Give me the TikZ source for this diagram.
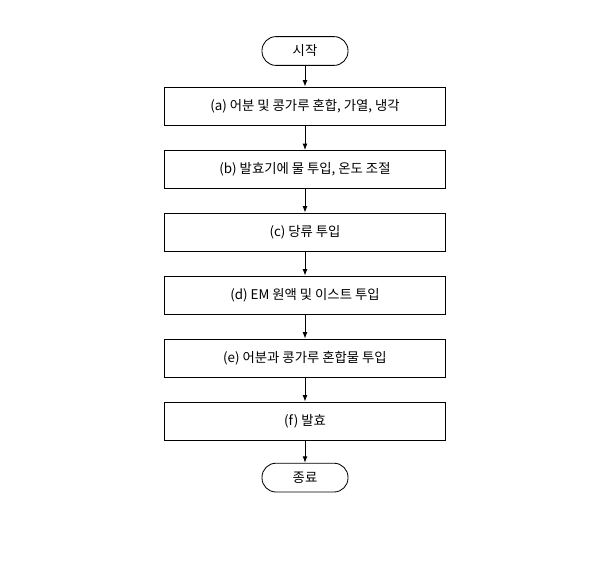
\documentclass[tikz,border=0pt]{standalone}
\usepackage{fontspec}
\setmainfont{Noto Sans CJK KR}
\usetikzlibrary{positioning,arrows.meta}
\tikzset{
  stepbox/.style={draw, semithick, minimum width=7.025cm, minimum height=0.95cm, font=\fontsize{9.5}{11}\selectfont},
  termbox/.style={draw, semithick, rounded corners=0.35cm, minimum width=2.15cm, minimum height=0.72cm, font=\fontsize{9.5}{11}\selectfont},
  flow/.style={-{Latex[length=1.6mm,width=1.2mm]}, semithick}
}
\begin{document}
\begin{tikzpicture}
\useasboundingbox (0,0) rectangle (15,-14.4);
% terminals and steps
\node[termbox] (start) at (7.625,-1.275) {시작};
\node[stepbox] (sa) at (7.625,-2.65) {(a) 어분 및 콩가루 혼합, 가열, 냉각};
\node[stepbox] (sb) at (7.625,-4.2375) {(b) 발효기에 물 투입, 온도 조절};
\node[stepbox] (sc) at (7.625,-5.8) {(c) 당류 투입};
\node[stepbox] (sd) at (7.625,-7.375) {(d) EM 원액 및 이스트 투입};
\node[stepbox] (se) at (7.625,-8.95) {(e) 어분과 콩가루 혼합물 투입};
\node[stepbox] (sf) at (7.625,-10.525) {(f) 발효};
\node[termbox] (stop) at (7.625,-11.94) {종료};
% connectors
\foreach \a/\b in {start/sa,sa/sb,sb/sc,sc/sd,sd/se,se/sf,sf/stop}
  \draw[flow] (\a) -- (\b);
\end{tikzpicture}
\end{document}
